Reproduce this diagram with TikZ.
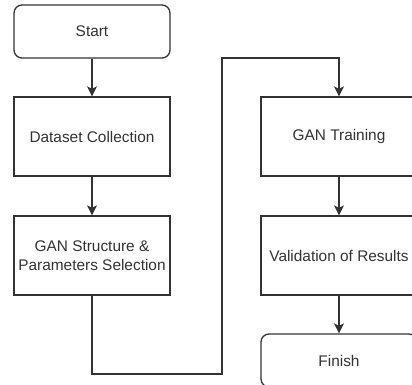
\documentclass[tikz,border=0pt]{standalone}
\usepackage{fontspec}
\setmainfont{Liberation Sans}
\usetikzlibrary{arrows.meta}
\definecolor{ink}{HTML}{333333}
\begin{document}
\begin{tikzpicture}[x=1pt,y=-1pt,
  box/.style={draw=ink,line width=1.3pt,rectangle,minimum width=156pt,minimum height=79pt,align=center,text=ink,font=\fontsize{15.4}{19.5}\selectfont,inner sep=0pt},
  term/.style={box,rounded corners=8pt,minimum height=53pt},
  conn/.style={draw=ink,line width=1.3pt,-{Stealth[length=10pt,width=10pt,inset=2.5pt]}}]
\clip (0,0) rectangle (412,385);
\fill[white] (0,0) rectangle (412,385);
\node[term] (start) at (92,31.5) {Start};
\node[box] (ds) at (92,136.5) {Dataset Collection};
\node[box] (gs) at (92,255.5) {GAN Structure \&\\Parameters Selection};
\node[box] (gt) at (339,136.5) {GAN Training};
\node[box] (val) at (339,255.5) {Validation of Results};
\node[term] (fin) at (339,360.5) {Finish};
\coordinate (c2) at (222,374);
\coordinate (c3) at (222,58);
\draw[conn] (start) -- (ds);
\draw[conn] (ds) -- (gs);
\draw[conn] (gs.south) |- (c2) -- (c3) -| (gt.north);
\draw[conn] (gt) -- (val);
\draw[conn] (val) -- (fin);
\end{tikzpicture}
\end{document}
